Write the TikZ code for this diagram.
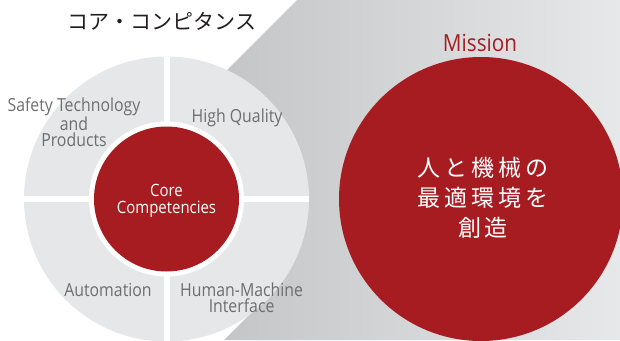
\documentclass[tikz,border=0pt]{standalone}
\usepackage{fontspec}
\newfontfamily\labfont{Open Sans}[FakeStretch=0.88]
\newfontfamily\jpfont{Noto Sans CJK JP}
\definecolor{cred}{HTML}{A61C21}
\definecolor{ringgray}{HTML}{E6E7E8}
\definecolor{labgray}{HTML}{6D6E70}
\definecolor{gL}{HTML}{BEBFC1}
\definecolor{gR}{HTML}{E7E8EA}
\definecolor{titlecol}{HTML}{231F20}
\newcommand\jc[1]{\makebox[27pt]{#1}}
\tikzset{
  lab/.style={font=\labfont\fontsize{18pt}{16.5pt}\selectfont, text=labgray, align=center, inner sep=0pt, anchor=base},
  corelab/.style={font=\labfont\fontsize{17pt}{16.5pt}\selectfont, text=white, align=center, inner sep=0pt, anchor=base},
  divider/.style={white, line width=6pt}
}
\begin{document}
\begin{tikzpicture}[x=1pt,y=-1pt]
\useasboundingbox (0,0) rectangle (620,340);
\clip (0,0) rectangle (620,340);
% grey shape behind
\coordinate (cc) at (166.5,199);
\shade[left color=gL, right color=gR] (297,0) -- (620,0) -- (620,340) -- (224,340) -- (266,298) -- (cc) -- (148.5,148.5) -- cycle;
% core competencies ring
\fill[ringgray] (cc) circle[radius=142.5pt];
\begin{scope}
  \clip (cc) circle[radius=142.5pt];
  \draw[divider] (166.5,50) -- (166.5,350);
  \draw[divider] (20,199) -- (315,199);
\end{scope}
\fill[white] (cc) circle[radius=77.5pt];
\fill[cred] (cc) circle[radius=72.5pt];
% mission circle
\coordinate (mc) at (481,199);
\fill[cred] (mc) circle[radius=142pt];
% texts
\node[font=\jpfont\fontsize{21pt}{24pt}\selectfont, text=titlecol, inner sep=0pt] (title) at (162,21.5) {コア・コンピタンス};
\node[lab] (safety) at (74,146.5) {Safety Technology\\and\\Products};
\node[lab] (quality) at (237,122.7) {High Quality};
\node[corelab] (core) at (166.5,213.3) {Core\\Competencies};
\node[lab] (auto) at (108,296) {Automation};
\node[lab] (hmi) at (241.6,312.7) {Human-Machine\\Interface};
\node[font=\labfont\fontsize{23.5pt}{24pt}\selectfont, text=cred, inner sep=0pt, anchor=base] (mission) at (480,51) {Mission};
\node[font=\jpfont\fontsize{23pt}{30pt}\selectfont, text=white, align=center, inner sep=0pt] (mtext) at (483,198) {\jc{人}\jc{と}\jc{機}\jc{械}\jc{の}\\\jc{最}\jc{適}\jc{環}\jc{境}\jc{を}\\\jc{創}\jc{造}};
\end{tikzpicture}
\end{document}
